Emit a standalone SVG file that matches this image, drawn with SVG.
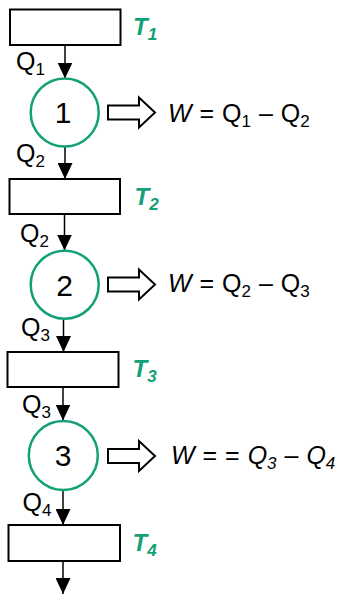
<svg xmlns="http://www.w3.org/2000/svg" width="342" height="594" viewBox="0 0 342 594">
<defs>
<style>
.box{fill:#fff;stroke:#000;stroke-width:2}
.eng{fill:#fff;stroke:#12a078;stroke-width:2.5}
.num{font-family:"Liberation Sans",Arial,sans-serif;font-size:30px;fill:#000;text-anchor:middle}
.lbl{font-family:"Liberation Sans",Arial,sans-serif;font-size:25px;fill:#000}
.eq{font-family:"Liberation Sans",Arial,sans-serif;font-size:25px;fill:#000;word-spacing:1px}
.temp{font-family:"Liberation Sans",Arial,sans-serif;font-size:24px;font-weight:bold;font-style:italic;fill:#12a078}
.sub{font-size:17px}
.flow{stroke:#000;stroke-width:1.5;fill:none}
.work{fill:#fff;stroke:#000;stroke-width:2;stroke-linejoin:miter}
</style>
<marker id="ah" viewBox="0 0 16 15" refX="16" refY="7.5" markerWidth="16" markerHeight="15" markerUnits="userSpaceOnUse" orient="auto">
<path d="M0,0 L16,7.5 L0,15 Z" fill="#000"/>
</marker>
</defs>

<g id="connectors">
<line class="flow" x1="65" y1="45" x2="65" y2="78.5" marker-end="url(#ah)"/>
<line class="flow" x1="65" y1="147" x2="65" y2="179" marker-end="url(#ah)"/>
<line class="flow" x1="64.5" y1="214" x2="64.5" y2="250.5" marker-end="url(#ah)"/>
<line class="flow" x1="63.5" y1="319.5" x2="63.5" y2="352" marker-end="url(#ah)"/>
<line class="flow" x1="63" y1="387" x2="63" y2="420.5" marker-end="url(#ah)"/>
<line class="flow" x1="63" y1="490" x2="63" y2="525" marker-end="url(#ah)"/>
<line class="flow" x1="63" y1="561" x2="63" y2="594" marker-end="url(#ah)"/>
<polygon class="work" points="108,105.5 139,105.5 139,97.5 155,112.5 139,127.5 139,119.5 108,119.5"/>
<polygon class="work" points="108,277.5 139,277.5 139,269.5 155,284.5 139,299.5 139,291.5 108,291.5"/>
<polygon class="work" points="108,449 139,449 139,441 155,456 139,471 139,463 108,463"/>
</g>

<g id="reservoir1">
<rect class="box" x="10" y="9.5" width="110.5" height="35.5"/>
<text class="temp" x="133" y="35">T<tspan class="sub" dy="5">1</tspan></text>
</g>
<g id="reservoir2">
<rect class="box" x="9.5" y="179" width="110.5" height="35"/>
<text class="temp" x="134.5" y="205">T<tspan class="sub" dy="5">2</tspan></text>
</g>
<g id="reservoir3">
<rect class="box" x="7.5" y="352" width="111" height="35"/>
<text class="temp" x="132.5" y="377">T<tspan class="sub" dy="5">3</tspan></text>
</g>
<g id="reservoir4">
<rect class="box" x="8.5" y="525" width="111.5" height="36"/>
<text class="temp" x="132.5" y="551">T<tspan class="sub" dy="5">4</tspan></text>
</g>

<g id="engine1">
<circle class="eng" cx="64.7" cy="112.5" r="34"/>
<text class="num" x="63" y="123">1</text>
</g>
<g id="engine2">
<circle class="eng" cx="64.7" cy="284.7" r="34"/>
<text class="num" x="64.5" y="295.5">2</text>
</g>
<g id="engine3">
<circle class="eng" cx="63.3" cy="455.5" r="34.5"/>
<text class="num" x="63" y="466">3</text>
</g>

<g id="labels">
<text class="lbl" x="16" y="70">Q<tspan class="sub" dy="5">1</tspan></text>
<text class="lbl" x="16" y="162">Q<tspan class="sub" dy="5">2</tspan></text>
<text class="lbl" x="20" y="241.5">Q<tspan class="sub" dy="5">2</tspan></text>
<text class="lbl" x="21" y="335.5">Q<tspan class="sub" dy="5">3</tspan></text>
<text class="lbl" x="22" y="413">Q<tspan class="sub" dy="5">3</tspan></text>
<text class="lbl" x="22.5" y="510.5">Q<tspan class="sub" dy="5">4</tspan></text>
<text class="eq" x="168" y="121.5" xml:space="preserve"><tspan font-style="italic">W</tspan> = Q<tspan class="sub" dy="5">1</tspan><tspan dy="-5"> – Q</tspan><tspan class="sub" dy="5">2</tspan></text>
<text class="eq" x="168" y="292" xml:space="preserve"><tspan font-style="italic">W</tspan> = Q<tspan class="sub" dy="5">2</tspan><tspan dy="-5"> – Q</tspan><tspan class="sub" dy="5">3</tspan></text>
<text class="eq" x="171" y="464" xml:space="preserve"><tspan font-style="italic">W</tspan> = = <tspan font-style="italic">Q</tspan><tspan class="sub" font-style="italic" dy="5">3</tspan><tspan dy="-5"> – </tspan><tspan font-style="italic">Q</tspan><tspan class="sub" font-style="italic" dy="5">4</tspan></text>
</g>
</svg>
